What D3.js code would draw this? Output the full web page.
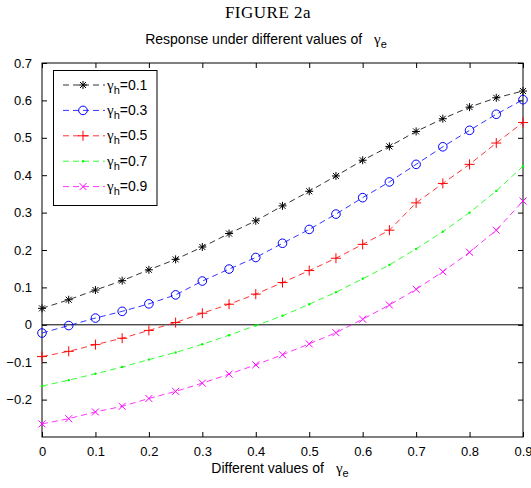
<html>
<head>
<script src="https://d3js.org/d3.v7.min.js"></script>
<style>
body { margin: 0; background: #fff; }
text { font-family: "Liberation Sans", Arial, sans-serif; }
</style>
</head>
<body>
<svg width="531" height="488"></svg>
<script>
// x values: gamma_e from 0 to 0.9 step 0.05
var gammaE = [0, 0.05, 0.1, 0.15, 0.2, 0.25, 0.3, 0.35, 0.4, 0.45, 0.5, 0.55, 0.6, 0.65, 0.7, 0.75, 0.8, 0.85, 0.9];
var seriesNames = ["0.1", "0.3", "0.5", "0.7", "0.9"];
var h01 = [0.044, 0.067, 0.093, 0.118, 0.147, 0.175, 0.208, 0.244, 0.278, 0.318, 0.357, 0.398, 0.440, 0.477, 0.517, 0.551, 0.582, 0.607, 0.625];
var h03 = [-0.022, -0.002, 0.018, 0.036, 0.056, 0.080, 0.117, 0.149, 0.180, 0.218, 0.255, 0.296, 0.340, 0.382, 0.429, 0.476, 0.520, 0.563, 0.602];
var h05 = [-0.085, -0.071, -0.053, -0.036, -0.015, 0.006, 0.031, 0.055, 0.082, 0.113, 0.145, 0.178, 0.215, 0.253, 0.326, 0.378, 0.429, 0.486, 0.541];
var h07 = [-0.164, -0.148, -0.131, -0.113, -0.093, -0.074, -0.052, -0.028, -0.002, 0.024, 0.055, 0.087, 0.123, 0.160, 0.203, 0.249, 0.300, 0.358, 0.424];
var h09 = [-0.265, -0.251, -0.233, -0.218, -0.197, -0.178, -0.156, -0.132, -0.107, -0.080, -0.051, -0.021, 0.015, 0.053, 0.095, 0.142, 0.194, 0.253, 0.331];
var xTicks = [0, 0.1, 0.2, 0.3, 0.4, 0.5, 0.6, 0.7, 0.8, 0.9];
var yTicks = [-0.2, -0.1, 0, 0.1, 0.2, 0.3, 0.4, 0.5, 0.6, 0.7];

var colors = ["#000000", "#0000ff", "#ff0000", "#00ff00", "#ff00ff"];
var markers = ["star", "circle", "plus", "dot", "cross"];
var allSeries = [h01, h03, h05, h07, h09];

var svg = d3.select("svg");
var margin = {top: 63, right: 8, bottom: 51, left: 42};
var width = 531, height = 488;
var x = d3.scaleLinear().domain([0, 0.9]).range([margin.left, width - margin.right]);
var y = d3.scaleLinear().domain([-0.3, 0.7]).range([height - margin.bottom, margin.top]);

// titles
svg.append("text").attr("x", 268).attr("y", 18).attr("text-anchor", "middle")
  .style("font-family", "'Liberation Serif', serif").style("font-size", "17px").style("letter-spacing", "0.5px")
  .text("FIGURE 2a");
var sub = svg.append("text").attr("x", 266).attr("y", 44).attr("text-anchor", "middle").style("font-size", "14px");
sub.append("tspan").text("Response under different values of");
sub.append("tspan").attr("dx", 12).style("font-family", "'Liberation Serif', serif").style("font-size", "15px").text("γ");
sub.append("tspan").attr("dy", 4).style("font-size", "11px").text("e");

// axes with inward ticks
var tk = 5;
svg.append("g").attr("transform", "translate(0," + y(-0.3) + ")")
  .call(d3.axisBottom(x).tickValues(xTicks).tickSizeInner(-tk).tickSizeOuter(0).tickPadding(10).tickFormat(d3.format("")))
  .call(g => g.select(".domain").remove());
svg.append("g").attr("transform", "translate(0," + y(0.7) + ")")
  .call(d3.axisTop(x).tickValues(xTicks).tickSizeInner(-tk).tickSizeOuter(0).tickFormat(""))
  .call(g => g.select(".domain").remove());
svg.append("g").attr("transform", "translate(" + x(0) + ",0)")
  .call(d3.axisLeft(y).tickValues(yTicks).tickSizeInner(-tk).tickSizeOuter(0).tickPadding(10).tickFormat(d3.format("")))
  .call(g => g.select(".domain").remove());
svg.append("g").attr("transform", "translate(" + x(0.9) + ",0)")
  .call(d3.axisRight(y).tickValues(yTicks).tickSizeInner(-tk).tickSizeOuter(0).tickFormat(""))
  .call(g => g.select(".domain").remove());
svg.selectAll(".tick text").style("font-size", "13px").attr("fill", "#000");

// frame
svg.append("rect").attr("x", x(0)).attr("y", y(0.7)).attr("width", x(0.9) - x(0)).attr("height", y(-0.3) - y(0.7))
  .attr("fill", "none").attr("stroke", "#000").attr("stroke-width", 1);
// zero line
svg.append("line").attr("x1", x(0)).attr("x2", x(0.9)).attr("y1", y(0)).attr("y2", y(0)).attr("stroke", "#000");

// x label
var xl = svg.append("text").attr("x", 280).attr("y", 473).attr("text-anchor", "middle").style("font-size", "14px");
xl.append("tspan").text("Different values of");
xl.append("tspan").attr("dx", 12).style("font-family", "'Liberation Serif', serif").style("font-size", "15px").text("γ");
xl.append("tspan").attr("dy", 4).style("font-size", "11px").text("e");

function drawMarker(g, type, color) {
  if (type === "star") {
    g.append("path").attr("d", "M-4,0H4M0,-4V4M-3,-3L3,3M-3,3L3,-3").attr("stroke", color).attr("fill", "none");
  } else if (type === "circle") {
    g.append("circle").attr("r", 4.3).attr("stroke", color).attr("fill", "none");
  } else if (type === "plus") {
    g.append("path").attr("d", "M-5,0H5M0,-5V5").attr("stroke", color).attr("fill", "none");
  } else if (type === "dot") {
    g.append("circle").attr("r", 1.2).attr("fill", color);
  } else {
    g.append("path").attr("d", "M-3.5,-3.5L3.5,3.5M-3.5,3.5L3.5,-3.5").attr("stroke", color).attr("fill", "none");
  }
}

var line = d3.line().x((d, i) => x(gammaE[i])).y(d => y(d));
allSeries.forEach(function(vals, s) {
  svg.append("path").datum(vals).attr("d", line).attr("fill", "none")
    .attr("stroke", colors[s]).attr("stroke-width", 0.8).attr("stroke-dasharray", "6,4");
  vals.forEach(function(v, i) {
    drawMarker(svg.append("g").attr("transform", "translate(" + x(gammaE[i]) + "," + y(v) + ")"), markers[s], colors[s]);
  });
});

// legend
var lg = svg.append("g");
lg.append("rect").attr("x", 53.5).attr("y", 70.5).attr("width", 103.5).attr("height", 135)
  .attr("fill", "#fff").attr("stroke", "#000");
seriesNames.forEach(function(name, s) {
  var ly = 85 + s * 25.4;
  lg.append("line").attr("x1", 62).attr("x2", 105).attr("y1", ly).attr("y2", ly)
    .attr("stroke", colors[s]).attr("stroke-dasharray", "6,4").attr("stroke-dashoffset", -1).attr("stroke-width", 0.8);
  drawMarker(lg.append("g").attr("transform", "translate(83," + ly + ")"), markers[s], colors[s]);
  var t = lg.append("text").attr("x", 107).attr("y", ly + 4.5).style("font-size", "14px");
  t.append("tspan").style("font-family", "'Liberation Serif', serif").style("font-size", "15px").text("γ");
  t.append("tspan").attr("dy", 4).style("font-size", "11px").text("h");
  t.append("tspan").attr("dy", -4).text("=" + name);
});
</script>
</body>
</html>
